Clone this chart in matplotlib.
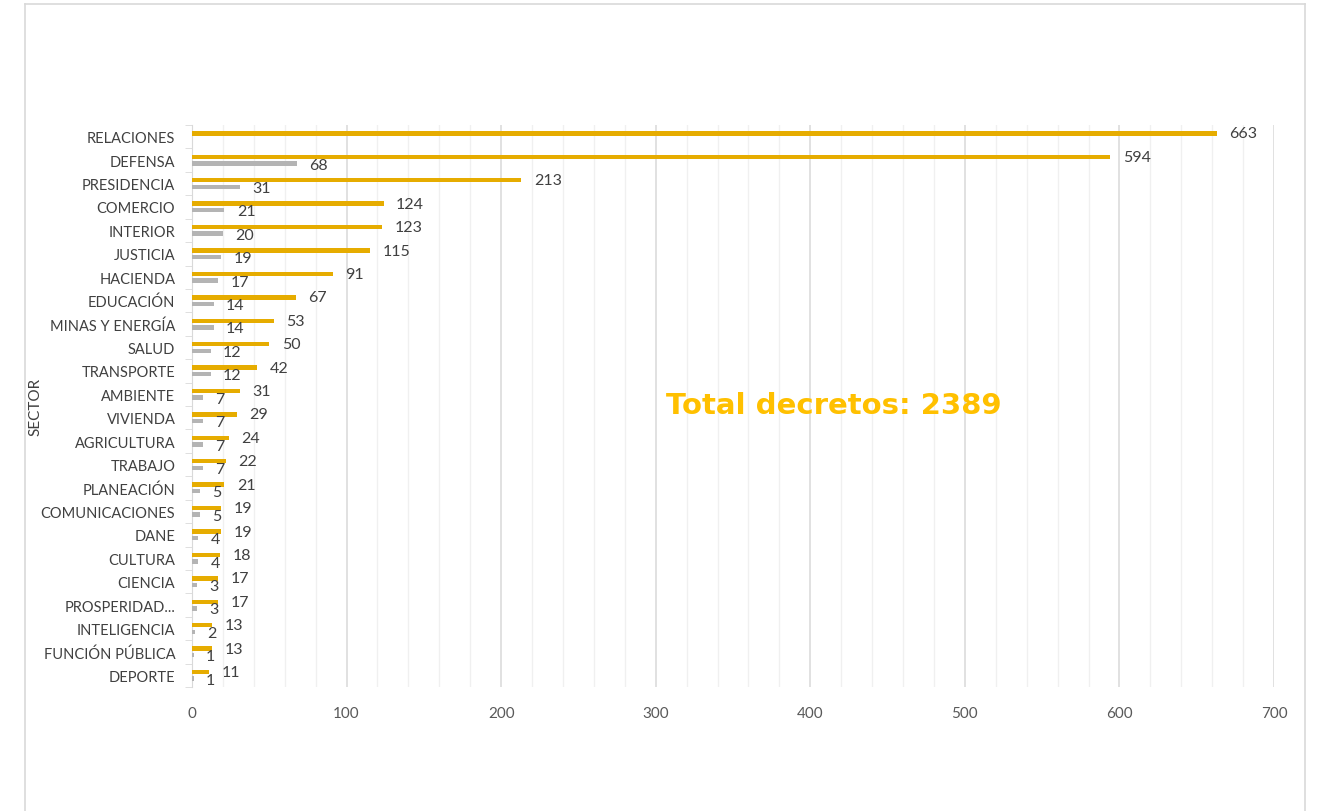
import matplotlib.pyplot as plt
import numpy as np
from matplotlib.lines import Line2D

sectores = ["RELACIONES", "DEFENSA", "PRESIDENCIA", "COMERCIO", "INTERIOR", "JUSTICIA",
            "HACIENDA", "EDUCACIÓN", "MINAS Y ENERGÍA", "SALUD", "TRANSPORTE", "AMBIENTE",
            "VIVIENDA", "AGRICULTURA", "TRABAJO", "PLANEACIÓN", "COMUNICACIONES", "DANE",
            "CULTURA", "CIENCIA", "PROSPERIDAD...", "INTELIGENCIA", "FUNCIÓN PÚBLICA", "DEPORTE"]
decretos = [663, 594, 213, 124, 123, 115, 91, 67, 53, 50, 42, 31, 29, 24, 22, 21, 19, 19,
            18, 17, 17, 13, 13, 11]
otros = [None, 68, 31, 21, 20, 19, 17, 14, 14, 12, 12, 7, 7, 7, 7, 5, 5, 4, 4, 3, 3, 2, 1, 1]
total = 2389

gold = "#E6AC00"
gray = "#B4B4B4"
txt = "#404040"
font = "Lato"

fig = plt.figure(figsize=(13.21, 8.12), dpi=100)
ax = fig.add_axes([192 / 1321, 1 - 688 / 812, (1274 - 192) / 1321, (688 - 126) / 812])

y = np.arange(len(sectores))
h = 0.19
off = 0.14
ax.barh(y - off, decretos, height=h, color=gold, zorder=3)
otros_v = [v if v is not None else 0 for v in otros]
ax.barh(y + off, otros_v, height=h, color=gray, zorder=3)

for i, v in enumerate(decretos):
    ax.annotate(str(v), (v, i - off), xytext=(9, 0), textcoords="offset points",
                va="center", ha="left", fontsize=11.5, color=txt, family=font)
for i, v in enumerate(otros):
    if v is None:
        continue
    ax.annotate(str(v), (v, i + off + 0.05), xytext=(9, 0), textcoords="offset points",
                va="center", ha="left", fontsize=11.5, color=txt, family=font)

ax.set_xlim(0, 700)
ax.set_ylim(len(sectores) - 0.5, -0.5)
ax.set_xticks(np.arange(0, 701, 100))
ax.set_xticks(np.arange(0, 701, 20), minor=True)
ax.set_yticks(y)
ax.set_yticklabels(sectores, family=font, fontsize=10.5, color=txt)
ax.set_yticks(np.arange(-0.5, len(sectores), 1), minor=True)
ax.tick_params(axis="y", which="major", length=0, pad=12)
ax.tick_params(axis="y", which="minor", length=5, color="#d9d9d9", direction="out")
ax.tick_params(axis="x", which="both", length=0, pad=14)
for lab in ax.get_xticklabels():
    lab.set_family(font)
    lab.set_fontsize(11)
    lab.set_color("#595959")

ax.grid(axis="x", which="major", color="#d9d9d9", lw=1.1, zorder=0)
ax.grid(axis="x", which="minor", color="#f0f0f0", lw=1.0, zorder=0)
for s in ["top", "right", "bottom"]:
    ax.spines[s].set_visible(False)
ax.spines["left"].set_color("#d9d9d9")

ax.set_ylabel("SECTOR", family=font, fontsize=11, color=txt)
ax.yaxis.set_label_coords(-0.138, 0.5)

ax.text(415, 11.45, "Total decretos: %d" % total, ha="center", va="center",
        fontsize=21, fontweight="bold", color="#FFC000", family="DejaVu Sans", zorder=5)

# chart frame
for xs, ys in [([25, 25], [812, 5]), ([25, 1305], [5, 5]), ([1305, 1305], [5, 812])]:
    fig.add_artist(Line2D([v / 1321 for v in xs], [1 - v / 812 for v in ys],
                          color="#d9d9d9", lw=1.2))

fig.savefig("out.png", dpi=100)
